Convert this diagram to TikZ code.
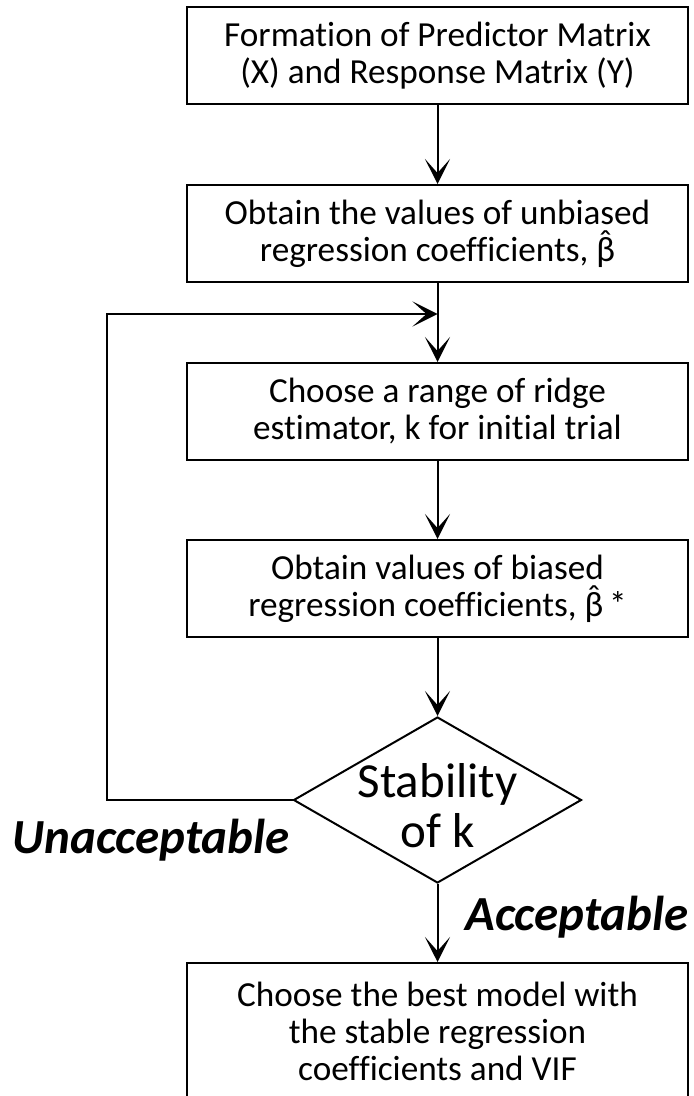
\documentclass[tikz,border=0pt]{standalone}
\usepackage[no-math]{fontspec}
\setmainfont{Carlito}[Ligatures=CommonOff]
\usetikzlibrary{arrows.meta, shapes.geometric}
\newcommand{\betahat}{\ooalign{β\cr\hidewidth\raisebox{0.18em}{ˆ}\hidewidth\cr}}

\begin{document}
\begin{tikzpicture}[x=0.5pt, y=-0.5pt,
  box/.style={draw, line width=1pt, minimum width=250.5pt, minimum height=48.5pt,
    align=center, inner sep=0pt, font=\fontsize{17.6}{18.5}\selectfont},
  decision/.style={draw, diamond, line width=1pt, minimum width=144pt,
    minimum height=83pt, inner sep=0pt},
  flow/.style={line width=1pt, -{Stealth[length=12.5pt, width=12.5pt, inset=7pt]}},
  answer/.style={font=\fontsize{24.5}{24.5}\selectfont\bfseries\itshape,
    inner sep=0pt, anchor=base west}]

\useasboundingbox (0,0) rectangle (693,1096);
\clip (0,0) rectangle (693,1096);

\node[box] (form) at (437.5,55.5) {Formation of Predictor Matrix\\(X) and Response Matrix (Y)};
\node[box] (unbiased) at (437.5,233.5) {Obtain the values of unbiased\\regression coefficients, \betahat};
\node[box] (ridge) at (437.5,411.5) {Choose a range of ridge\\estimator, k for initial trial};
\node[box] (biased) at (437.5,588.5) {Obtain values of biased\\regression coefficients, \betahat\,*};
\node[decision] (stab) at (437.5,800) {};
\node[align=center, font=\fontsize{24.5}{25}\selectfont] (stabtext) at (437.5,806) {Stability\\of k};
\node[box, minimum height=68pt] (best) at (437.5,1031) {Choose the best model with\\the stable regression\\coefficients and VIF};

\node[answer] (unacc) at (12,853) {Unacceptable};
\node[answer] (acc) at (465,930) {Acceptable};

\coordinate (join) at (437.5,314);
\coordinate (back) at (107,314);

\draw[flow] (form) -- (unbiased);
\draw[flow] (unbiased) -- (ridge);
\draw[flow] (ridge) -- (biased);
\draw[flow] (biased) -- (stab);
\draw[flow] (stab) -- (best);
\draw[flow] (stab.west) -| (back) -- (join);

\end{tikzpicture}
\end{document}
